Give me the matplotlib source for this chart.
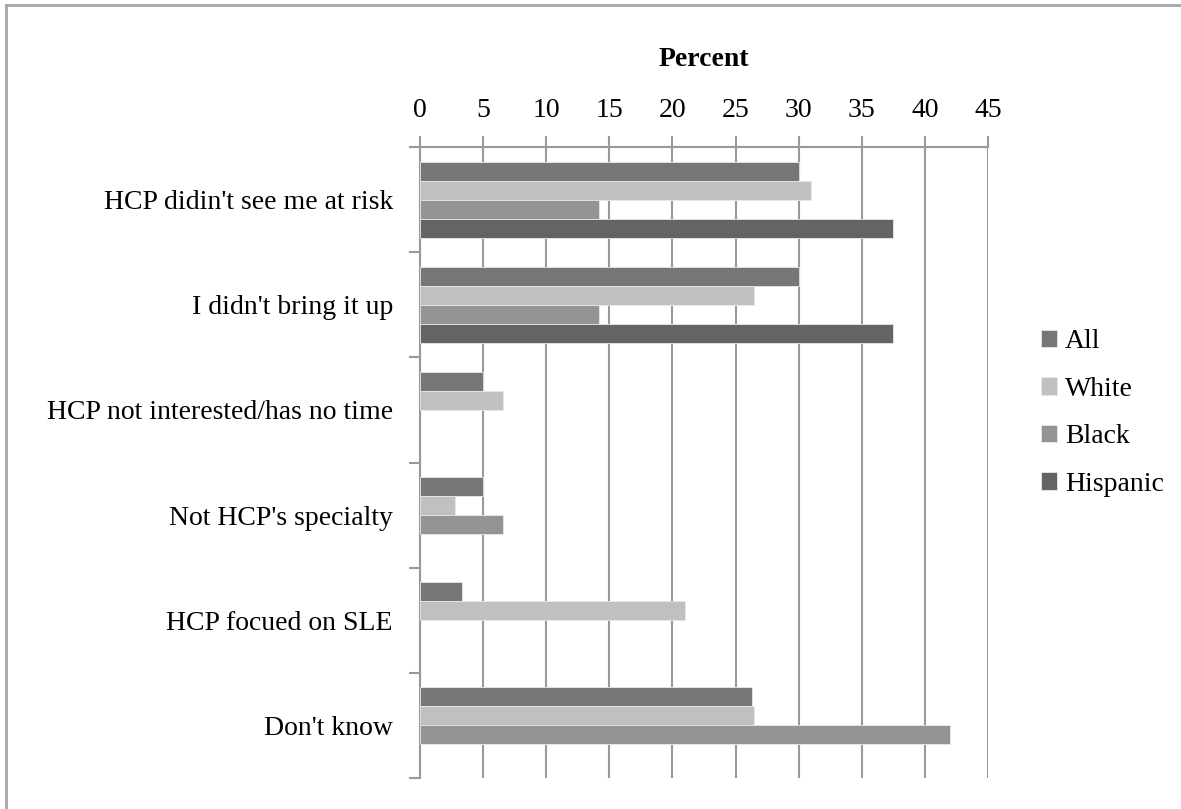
import matplotlib
matplotlib.use("Agg")
import matplotlib.pyplot as plt
import numpy as np
from matplotlib.lines import Line2D

categories = ["HCP didin't see me at risk", "I didn't bring it up",
              "HCP not interested/has no time", "Not HCP's specialty",
              "HCP focued on SLE", "Don't know"]
series_names = ["All", "White", "Black", "Hispanic"]
all_vals = [30, 30, 5, 5, 3.3, 26.3]
white_vals = [31, 26.5, 6.6, 2.8, 21, 26.5]
black_vals = [14.2, 14.2, 0, 6.6, 0, 42]
hispanic_vals = [37.5, 37.5, 0, 0, 0, 0]
colors = ["#767676", "#C0C0C0", "#949494", "#646464"]
xticks = [0, 5, 10, 15, 20, 25, 30, 35, 40, 45]

plt.rcParams['font.family'] = ['Liberation Serif', 'DejaVu Serif']
FS = 20
W, H = 1181, 809
fig = plt.figure(figsize=(W / 100, H / 100), dpi=100)
ax = fig.add_axes([420 / W, 1 - 778 / H, (988 - 420) / W, (778 - 147) / H])

series = [all_vals, white_vals, black_vals, hispanic_vals]
n = len(categories)
y = np.arange(n)
h = 0.181
for j, (vals, name, c) in enumerate(zip(series, series_names, colors)):
    lws = [0.6 if v > 0 else 0 for v in vals]
    ax.barh(y + (j - 1.5) * h, vals, height=h, color=c, label=name,
            edgecolor="#e8e8e8", linewidth=lws, zorder=3)

gray = "#999999"
ax.set_xlim(0, 45)
ax.set_ylim(n - 0.5, -0.5)
ax.xaxis.tick_top()
ax.xaxis.set_label_position("top")
ax.set_xticks(xticks)
ax.set_xticklabels([str(t) for t in xticks], fontsize=FS)
ax.tick_params(axis="x", direction="out", length=8, width=1.5, color=gray, pad=9)
ax.set_xlabel("Percent", fontsize=FS, fontweight="bold", labelpad=23)

ax.set_yticks(y)
ax.set_yticklabels(categories, fontsize=FS)
ax.set_yticks(np.arange(n + 1) - 0.5, minor=True)
ax.tick_params(axis="y", which="major", length=0, pad=19.5)
ax.tick_params(axis="y", which="minor", direction="out", length=8, width=1.5, color=gray)

ax.grid(axis="x", color=gray, linewidth=1.5, zorder=0)
ax.set_axisbelow(True)
for s in ["right", "bottom"]:
    ax.spines[s].set_visible(False)
for s in ["top", "left"]:
    ax.spines[s].set_color(gray)
    ax.spines[s].set_linewidth(1.5)

leg = ax.legend(loc="center left", bbox_to_anchor=(1041 / W, 1 - 413 / H),
                bbox_transform=fig.transFigure, frameon=False, fontsize=FS,
                handlelength=0.58, handleheight=0.58, handletextpad=0.28,
                labelspacing=0.81, borderpad=0, borderaxespad=0)

# outer chart border (top and left visible)
fig.add_artist(Line2D([6 / W, 6 / W], [0, 1 - 5 / H], transform=fig.transFigure,
                      color="#a6a6a6", linewidth=2))
fig.add_artist(Line2D([6 / W, 1], [1 - 5 / H, 1 - 5 / H], transform=fig.transFigure,
                      color="#a6a6a6", linewidth=2))

fig.savefig("out.png", dpi=100)
